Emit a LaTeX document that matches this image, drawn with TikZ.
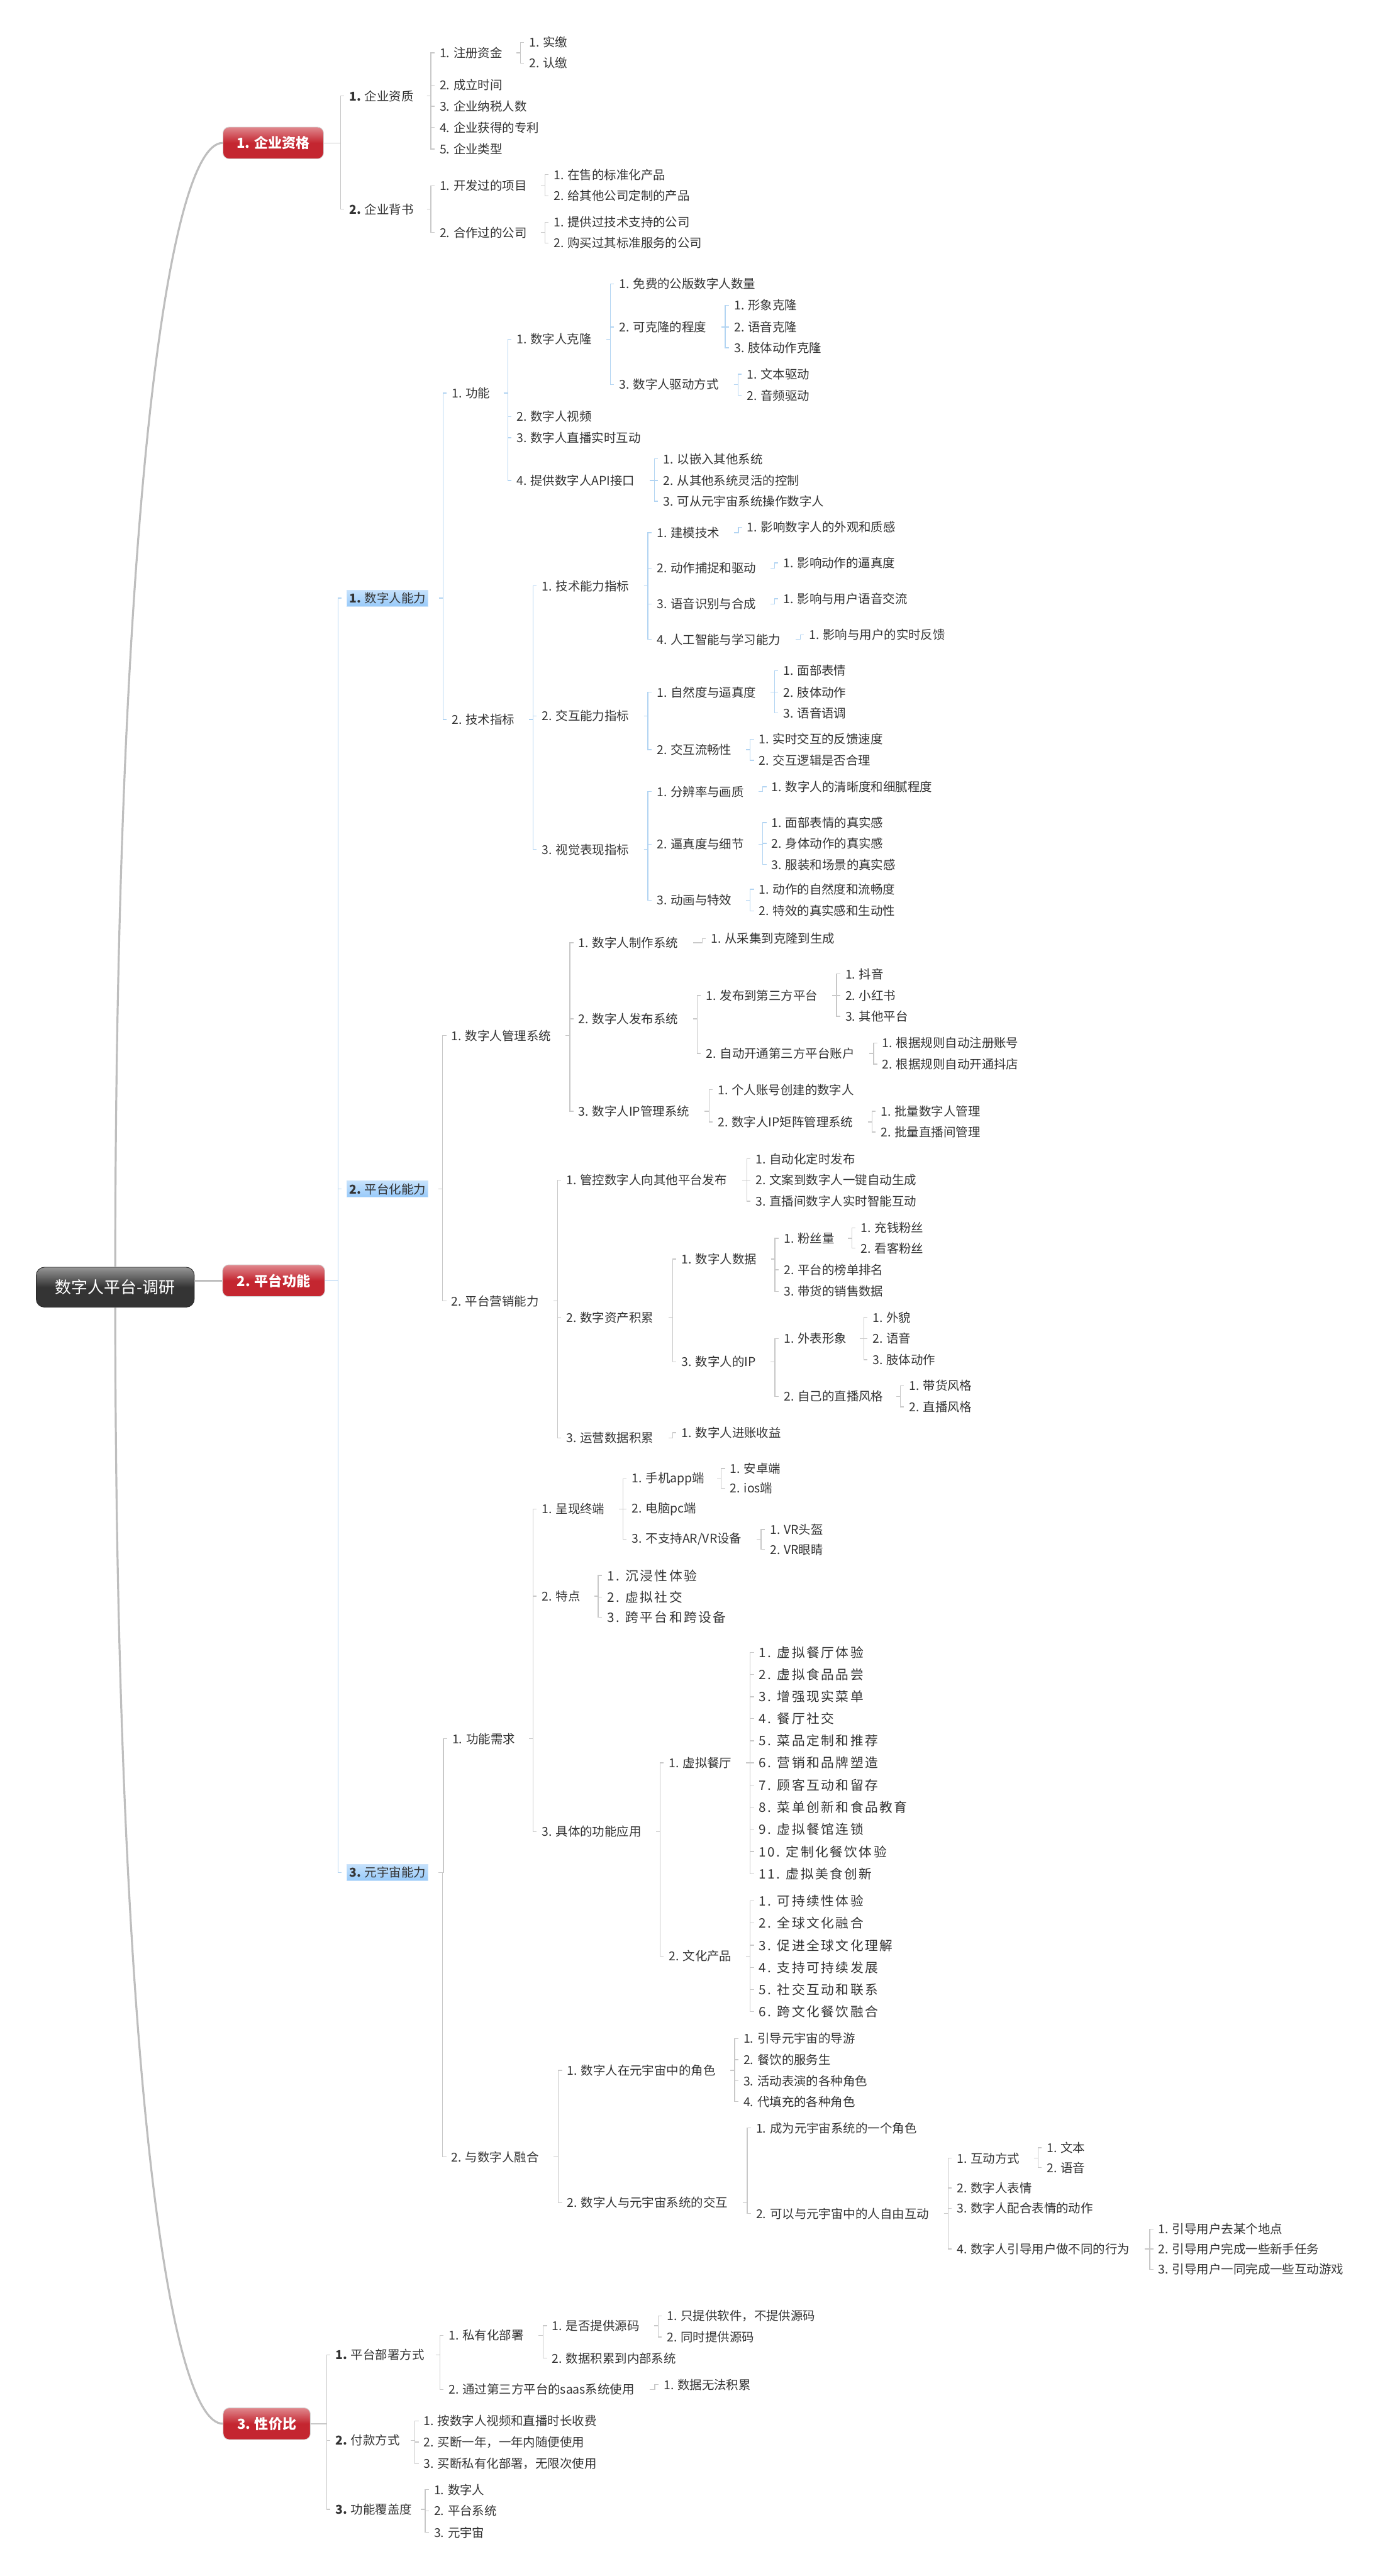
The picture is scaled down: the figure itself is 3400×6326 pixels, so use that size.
\documentclass[tikz,border=0pt]{standalone}
\usepackage{fontspec}
\setmainfont{Noto Sans CJK SC}
\usetikzlibrary{calc}
\definecolor{txt}{RGB}{51,51,51}
\definecolor{gline}{RGB}{200,200,200}
\definecolor{bline}{RGB}{178,212,242}
\definecolor{mline}{RGB}{190,190,190}
\definecolor{redtop}{RGB}{224,136,142}
\definecolor{redbot}{RGB}{196,38,48}
\definecolor{roottop}{RGB}{150,150,150}
\definecolor{rootbot}{RGB}{52,52,52}
\definecolor{rootedge}{RGB}{40,40,40}
\definecolor{boxedge}{RGB}{215,215,215}
\definecolor{bluetop}{RGB}{198,226,252}
\definecolor{bluebot}{RGB}{152,202,250}
\definecolor{blueedge}{RGB}{205,228,250}
\newcommand\fsn{\fontsize{8.54pt}{10pt}\selectfont}
\newcommand\fsbig{\fontsize{9.1pt}{11pt}\selectfont\addfontfeature{LetterSpace=12}}
\newcommand\cnx[4]{\draw[#1] let \p1=(#3.east),\p2=(#4.west) in ({min(\x1+#2,\x2-8.82pt)},\y1) -- (\x2-5.98pt,\y1) |- (\x2-3.41pt,\y2);}
\newcommand\fan[3][gl]{\foreach \cc in {#3}{\cnx{#1}{10.24pt}{#2}{\cc}}}
\newcommand\fanb[3][gl]{\foreach \cc in {#3}{\cnx{#1}{0pt}{#2}{\cc}}}
\newcommand\nd[4]{\node[t] (#1) at (#2,#3) {#4};}
\newcommand\ndb[4]{\node[tb] (#1) at (#2,#3) {#4};}
\begin{document}
\begin{tikzpicture}[x=0.01cm,y=-0.01cm,
 t/.style={anchor=west,inner sep=0pt,font=\fsn,text=txt},
 tb/.style={anchor=west,inner sep=0pt,font=\fsbig,text=txt},
 gl/.style={draw=gline,line width=0.6pt},
 bl/.style={draw=bline,line width=0.6pt},
 mainline/.style={draw=mline,line width=1.4pt},
 topbox/.style={rounded corners=0.15cm,draw=boxedge,top color=redtop,bottom color=redbot,middle color=redbot,text=white,font=\fontsize{9.7pt}{11pt}\selectfont\bfseries,minimum height=0.78cm,inner sep=0pt},
 rootbox/.style={rounded corners=0.2cm,draw=rootedge,top color=roottop,bottom color=rootbot,middle color=rootbot,text=white,font=\fontsize{11.4pt}{13pt}\selectfont,inner sep=0pt},
 bluebox/.style={anchor=west,draw=blueedge,top color=bluetop,bottom color=bluebot,font=\fsn,text=txt,inner xsep=0.06cm,inner ysep=0pt,minimum height=0.4cm}
]
\useasboundingbox (0,0) rectangle (3400,6326);
% root and main branches
\node[rootbox,minimum width=3.88cm,minimum height=0.98cm] (R) at (283,3161) {数字人平台-调研};
\node[topbox,minimum width=2.47cm] (A) at (671,351) {1. 企业资格};
\node[topbox,minimum width=2.51cm] (B) at (672,3145) {2. 平台功能};
\node[topbox,minimum width=2.14cm] (C) at (655,5952) {3. 性价比};
\draw[mainline] (R.north) .. controls (284,1300) and (410,351) .. (A.west);
\draw[mainline] (R.south) .. controls (284,5020) and (410,5952) .. (C.west);
\draw[mainline] (R.east |- B.west) -- (B.west);

% ===== A
\nd{a1}{857}{236}{{\bfseries 1.} 企业资质}
\nd{a2}{857}{514}{{\bfseries 2.} 企业背书}
\nd{a11}{1079}{130}{1. 注册资金}
\nd{a12}{1079}{209}{2. 成立时间}
\nd{a13}{1079}{261}{3. 企业纳税人数}
\nd{a14}{1079}{313}{4. 企业获得的专利}
\nd{a15}{1079}{366}{5. 企业类型}
\nd{a111}{1299}{104}{1. 实缴}
\nd{a112}{1299}{155}{2. 认缴}
\nd{a21}{1079}{456}{1. 开发过的项目}
\nd{a22}{1079}{571}{2. 合作过的公司}
\nd{a211}{1359}{429}{1. 在售的标准化产品}
\nd{a212}{1359}{481}{2. 给其他公司定制的产品}
\nd{a221}{1359}{546}{1. 提供过技术支持的公司}
\nd{a222}{1359}{597}{2. 购买过其标准服务的公司}
\fanb{A}{a1,a2}
\fan{a1}{a11,a12,a13,a14,a15}
\fan{a11}{a111,a112}
\fan{a2}{a21,a22}
\fan{a21}{a211,a212}
\fan{a22}{a221,a222}

% ===== B blue boxes
\node[bluebox] (B1) at (851,1469) {{\bfseries 1.} 数字人能力};
\node[bluebox] (B2) at (851,2920) {{\bfseries 2.} 平台化能力};
\node[bluebox] (B3) at (851,4598) {{\bfseries 3.} 元宇宙能力};
\fanb[bl]{B}{B1,B2,B3}

% ===== B1
\nd{b11}{1109}{965}{1. 功能}
\nd{b12}{1109}{1767}{2. 技术指标}
\nd{b111}{1268}{833}{1. 数字人克隆}
\nd{b112}{1268}{1023}{2. 数字人视频}
\nd{b113}{1268}{1075}{3. 数字人直播实时互动}
\nd{b114}{1268}{1180}{4. 提供数字人API接口}
\nd{b1111}{1520}{697}{1. 免费的公版数字人数量}
\nd{b1112}{1520}{803}{2. 可克隆的程度}
\nd{b1113}{1520}{944}{3. 数字人驱动方式}
\nd{b11121}{1802}{750}{1. 形象克隆}
\nd{b11122}{1802}{803}{2. 语音克隆}
\nd{b11123}{1802}{854}{3. 肢体动作克隆}
\nd{b11131}{1833}{919}{1. 文本驱动}
\nd{b11132}{1833}{971}{2. 音频驱动}
\nd{b1141}{1628}{1127}{1. 以嵌入其他系统}
\nd{b1142}{1628}{1180}{2. 从其他系统灵活的控制}
\nd{b1143}{1628}{1231}{3. 可从元宇宙系统操作数字人}
\nd{b121}{1330}{1439}{1. 技术能力指标}
\nd{b122}{1330}{1758}{2. 交互能力指标}
\nd{b123}{1330}{2086}{3. 视觉表现指标}
\nd{b1211}{1612}{1308}{1. 建模技术}
\nd{b1212}{1612}{1395}{2. 动作捕捉和驱动}
\nd{b1213}{1612}{1483}{3. 语音识别与合成}
\nd{b1214}{1612}{1570}{4. 人工智能与学习能力}
\nd{b12111}{1834}{1295}{1. 影响数字人的外观和质感}
\nd{b12121}{1923}{1382}{1. 影响动作的逼真度}
\nd{b12131}{1923}{1470}{1. 影响与用户语音交流}
\nd{b12141}{1986}{1559}{1. 影响与用户的实时反馈}
\nd{b1221}{1612}{1700}{1. 自然度与逼真度}
\nd{b1222}{1612}{1841}{2. 交互流畅性}
\nd{b12211}{1923}{1647}{1. 面部表情}
\nd{b12212}{1923}{1700}{2. 肢体动作}
\nd{b12213}{1923}{1751}{3. 语音语调}
\nd{b12221}{1863}{1815}{1. 实时交互的反馈速度}
\nd{b12222}{1863}{1867}{2. 交互逻辑是否合理}
\nd{b1231}{1612}{1944}{1. 分辨率与画质}
\nd{b1232}{1612}{2073}{2. 逼真度与细节}
\nd{b1233}{1612}{2211}{3. 动画与特效}
\nd{b12311}{1894}{1932}{1. 数字人的清晰度和细腻程度}
\nd{b12321}{1894}{2020}{1. 面部表情的真实感}
\nd{b12322}{1894}{2071}{2. 身体动作的真实感}
\nd{b12323}{1894}{2123}{3. 服装和场景的真实感}
\nd{b12331}{1863}{2184}{1. 动作的自然度和流畅度}
\nd{b12332}{1863}{2237}{2. 特效的真实感和生动性}
\fan[bl]{B1}{b11,b12}
\fan[bl]{b11}{b111,b112,b113,b114}
\fan[bl]{b111}{b1111,b1112,b1113}
\fan[bl]{b1112}{b11121,b11122,b11123}
\fan[bl]{b1113}{b11131,b11132}
\fan[bl]{b114}{b1141,b1142,b1143}
\fan[bl]{b12}{b121,b122,b123}
\fan[bl]{b121}{b1211,b1212,b1213,b1214}
\fan[bl]{b1211}{b12111}
\fan[bl]{b1212}{b12121}
\fan[bl]{b1213}{b12131}
\fan[bl]{b1214}{b12141}
\fan[bl]{b122}{b1221,b1222}
\fan[bl]{b1221}{b12211,b12212,b12213}
\fan[bl]{b1222}{b12221,b12222}
\fan[bl]{b123}{b1231,b1232,b1233}
\fan[bl]{b1231}{b12311}
\fan[bl]{b1232}{b12321,b12322,b12323}
\fan[bl]{b1233}{b12331,b12332}

% ===== B2
\nd{b21}{1108}{2543}{1. 数字人管理系统}
\nd{b22}{1108}{3195}{2. 平台营销能力}
\nd{b211}{1420}{2315}{1. 数字人制作系统}
\nd{b212}{1420}{2502}{2. 数字人发布系统}
\nd{b213}{1420}{2729}{3. 数字人IP管理系统}
\nd{b2111}{1745}{2305}{1. 从采集到克隆到生成}
\nd{b2121}{1733}{2445}{1. 发布到第三方平台}
\nd{b2122}{1733}{2587}{2. 自动开通第三方平台账户}
\nd{b21211}{2075}{2392}{1. 抖音}
\nd{b21212}{2075}{2445}{2. 小红书}
\nd{b21213}{2075}{2496}{3. 其他平台}
\nd{b21221}{2166}{2561}{1. 根据规则自动注册账号}
\nd{b21222}{2166}{2613}{2. 根据规则自动开通抖店}
\nd{b2131}{1762}{2676}{1. 个人账号创建的数字人}
\nd{b2132}{1762}{2755}{2. 数字人IP矩阵管理系统}
\nd{b21321}{2162}{2729}{1. 批量数字人管理}
\nd{b21322}{2162}{2780}{2. 批量直播间管理}
\nd{b221}{1390}{2898}{1. 管控数字人向其他平台发布}
\nd{b222}{1390}{3235}{2. 数字资产积累}
\nd{b223}{1390}{3531}{3. 运营数据积累}
\nd{b2211}{1855}{2846}{1. 自动化定时发布}
\nd{b2212}{1855}{2898}{2. 文案到数字人一键自动生成}
\nd{b2213}{1855}{2950}{3. 直播间数字人实时智能互动}
\nd{b2221}{1673}{3092}{1. 数字人数据}
\nd{b2222}{1673}{3344}{3. 数字人的IP}
\nd{b22211}{1924}{3041}{1. 粉丝量}
\nd{b22212}{1924}{3118}{2. 平台的榜单排名}
\nd{b22213}{1924}{3171}{3. 带货的销售数据}
\nd{b222111}{2113}{3015}{1. 充钱粉丝}
\nd{b222112}{2113}{3065}{2. 看客粉丝}
\nd{b22221}{1924}{3287}{1. 外表形象}
\nd{b22222}{1924}{3429}{2. 自己的直播风格}
\nd{b222211}{2142}{3235}{1. 外貌}
\nd{b222212}{2142}{3287}{2. 语音}
\nd{b222213}{2142}{3339}{3. 肢体动作}
\nd{b222221}{2232}{3403}{1. 带货风格}
\nd{b222222}{2232}{3455}{2. 直播风格}
\nd{b2231}{1673}{3518}{1. 数字人进账收益}
\fan{B2}{b21,b22}
\fan{b21}{b211,b212,b213}
\fan{b211}{b2111}
\fan{b212}{b2121,b2122}
\fan{b2121}{b21211,b21212,b21213}
\fan{b2122}{b21221,b21222}
\fan{b213}{b2131,b2132}
\fan{b2132}{b21321,b21322}
\fan{b22}{b221,b222,b223}
\fan{b221}{b2211,b2212,b2213}
\fan{b222}{b2221,b2222}
\fan{b2221}{b22211,b22212,b22213}
\fan{b22211}{b222111,b222112}
\fan{b2222}{b22221,b22222}
\fan{b22221}{b222211,b222212,b222213}
\fan{b22222}{b222221,b222222}
\fan{b223}{b2231}

% ===== B3
\nd{b31}{1110}{4270}{1. 功能需求}
\nd{b32}{1108}{5297}{2. 与数字人融合}
\nd{b311}{1330}{3706}{1. 呈现终端}
\nd{b312}{1330}{3920}{2. 特点}
\nd{b313}{1330}{4498}{3. 具体的功能应用}
\nd{b3111}{1551}{3632}{1. 手机app端}
\nd{b3112}{1551}{3706}{2. 电脑pc端}
\nd{b3113}{1551}{3780}{3. 不支持AR/VR设备}
\nd{b31111}{1792}{3606}{1. 安卓端}
\nd{b31112}{1792}{3655}{2. ios端}
\nd{b31131}{1890}{3756}{1. VR头盔}
\nd{b31132}{1890}{3805}{2. VR眼睛}
\ndb{b3121}{1490}{3869}{1. 沉浸性体验}
\ndb{b3122}{1490}{3922}{2. 虚拟社交}
\ndb{b3123}{1490}{3971}{3. 跨平台和跨设备}
\nd{b3131}{1642}{4329}{1. 虚拟餐厅}
\nd{b3132}{1642}{4804}{2. 文化产品}
\ndb{r1}{1863}{4058}{1. 虚拟餐厅体验}
\ndb{r2}{1863}{4112}{2. 虚拟食品品尝}
\ndb{r3}{1863}{4167}{3. 增强现实菜单}
\ndb{r4}{1863}{4220}{4. 餐厅社交}
\ndb{r5}{1863}{4275}{5. 菜品定制和推荐}
\ndb{r6}{1863}{4329}{6. 营销和品牌塑造}
\ndb{r7}{1863}{4384}{7. 顾客互动和留存}
\ndb{r8}{1863}{4438}{8. 菜单创新和食品教育}
\ndb{r9}{1863}{4492}{9. 虚拟餐馆连锁}
\ndb{r10}{1863}{4547}{10. 定制化餐饮体验}
\ndb{r11}{1863}{4602}{11. 虚拟美食创新}
\ndb{k1}{1863}{4668}{1. 可持续性体验}
\ndb{k2}{1863}{4722}{2. 全球文化融合}
\ndb{k3}{1863}{4777}{3. 促进全球文化理解}
\ndb{k4}{1863}{4832}{4. 支持可持续发展}
\ndb{k5}{1863}{4886}{5. 社交互动和联系}
\ndb{k6}{1863}{4940}{6. 跨文化餐饮融合}
\nd{b321}{1392}{5084}{1. 数字人在元宇宙中的角色}
\nd{b322}{1392}{5409}{2. 数字人与元宇宙系统的交互}
\nd{m1}{1825}{5006}{1. 引导元宇宙的导游}
\nd{m2}{1825}{5058}{2. 餐饮的服务生}
\nd{m3}{1825}{5110}{3. 活动表演的各种角色}
\nd{m4}{1825}{5161}{4. 代填充的各种角色}
\nd{n1}{1856}{5226}{1. 成为元宇宙系统的一个角色}
\nd{n2}{1856}{5436}{2. 可以与元宇宙中的人自由互动}
\nd{p1}{2349}{5300}{1. 互动方式}
\nd{p2}{2349}{5373}{2. 数字人表情}
\nd{p3}{2349}{5423}{3. 数字人配合表情的动作}
\nd{p4}{2349}{5523}{4. 数字人引导用户做不同的行为}
\nd{q1}{2570}{5274}{1. 文本}
\nd{q2}{2570}{5323}{2. 语音}
\nd{s1}{2844}{5474}{1. 引导用户去某个地点}
\nd{s2}{2844}{5523}{2. 引导用户完成一些新手任务}
\nd{s3}{2844}{5573}{3. 引导用户一同完成一些互动游戏}
\fan{B3}{b31,b32}
\fan{b31}{b311,b312,b313}
\fan{b311}{b3111,b3112,b3113}
\fan{b3111}{b31111,b31112}
\fan{b3113}{b31131,b31132}
\fan{b312}{b3121,b3122,b3123}
\fan{b313}{b3131,b3132}
\fan{b3131}{r1,r2,r3,r4,r5,r6,r7,r8,r9,r10,r11}
\fan{b3132}{k1,k2,k3,k4,k5,k6}
\fan{b32}{b321,b322}
\fan{b321}{m1,m2,m3,m4}
\fan{b322}{n1,n2}
\fan{n2}{p1,p2,p3,p4}
\fan{p1}{q1,q2}
\fan{p4}{s1,s2,s3}

% ===== C
\nd{c1}{823}{5783}{{\bfseries 1.} 平台部署方式}
\nd{c2}{823}{5993}{{\bfseries 2.} 付款方式}
\nd{c3}{823}{6162}{{\bfseries 3.} 功能覆盖度}
\nd{c11}{1101}{5735}{1. 私有化部署}
\nd{c12}{1101}{5868}{2. 通过第三方平台的saas系统使用}
\nd{c111}{1355}{5711}{1. 是否提供源码}
\nd{c112}{1355}{5791}{2. 数据积累到内部系统}
\nd{c1111}{1637}{5687}{1. 只提供软件，不提供源码}
\nd{c1112}{1637}{5739}{2. 同时提供源码}
\nd{c121}{1629}{5856}{1. 数据无法积累}
\nd{c21}{1040}{5945}{1. 按数字人视频和直播时长收费}
\nd{c22}{1040}{5997}{2. 买断一年，一年内随便使用}
\nd{c23}{1040}{6050}{3. 买断私有化部署，无限次使用}
\nd{c31}{1065}{6114}{1. 数字人}
\nd{c32}{1065}{6166}{2. 平台系统}
\nd{c33}{1065}{6219}{3. 元宇宙}
\fanb{C}{c1,c2,c3}
\fan{c1}{c11,c12}
\fan{c11}{c111,c112}
\fan{c111}{c1111,c1112}
\fan{c12}{c121}
\fan{c2}{c21,c22,c23}
\fan{c3}{c31,c32,c33}
\end{tikzpicture}
\end{document}
